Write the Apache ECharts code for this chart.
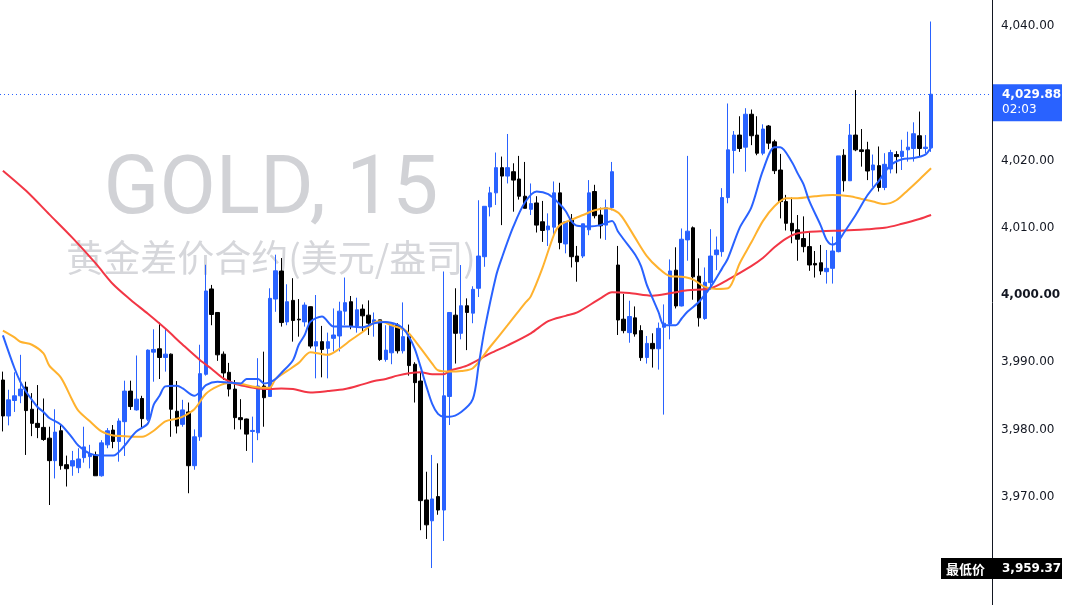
<!DOCTYPE html>
<html><head><meta charset="utf-8">
<script src="https://cdn.jsdelivr.net/npm/echarts@6/dist/echarts.min.js"></script>
<style>html,body{margin:0;padding:0;background:#fff}#c{width:1067px;height:605px}</style>
</head><body><div id="c"></div>
<script>
const opens = [3987.35,3982.0,3984.3,3985.0,3986.3,3983.0,3980.9,3980.3,3978.7,3975.35,
3979.8,3974.75,3974.55,3974.3,3975.8,3975.95,3976.2,3973.1,3977.7,3979.9,
3978.2,3981.15,3985.7,3982.9,3984.6,3981.5,3991.5,3992.0,3990.7,3991.2,
3982.7,3980.75,3982.6,3974.6,3978.9,3988.2,4000.9,3997.4,3991.2,3988.5,
3986.0,3981.75,3981.55,3979.7,3979.5,3986.46,3984.9,3999.4,4003.57,3996.0,
3999.2,3996.4,3996.0,3998.26,3992.4,3993.06,3992.06,3993.55,3993.9,3997.6,
3999.0,3995.4,3997.9,3997.0,3995.9,3996.3,3990.4,3991.4,3995.5,3991.7,
3993.8,3989.7,3987.2,3969.5,3966.4,3970.0,3968.0,3984.9,3997.0,3994.3,
3998.4,3997.3,4001.0,4005.7,4013.1,4015.2,4018.95,4017.7,4018.35,4017.26,
4014.7,4012.75,4013.7,4010.9,4009.7,4010.1,4015.2,4007.6,4011.3,4005.8,
4005.8,4009.7,4015.4,4011.9,4010.4,4013.0,4004.46,3996.4,3994.4,3996.6,
3994.7,3990.7,3992.8,3992.0,3995.2,3995.7,4003.7,3998.37,4008.2,4010.0,
4002.8,3996.5,4001.84,4006.0,4006.45,4014.5,4021.5,4023.8,4022.0,4026.9,
4023.8,4021.1,4025.15,4022.8,4018.6,4013.9,4010.67,4009.7,4008.4,4007.2,
4004.7,4004.8,4003.47,4003.97,4006.45,4020.8,4017.0,4023.8,4021.6,4021.6,
4018.6,4019.25,4016.0,4018.75,4020.9,4020.6,4021.6,4021.8,4023.7,4021.8,
4021.9];
const closes = [3982.0,3984.4,3985.0,3986.0,3982.8,3980.9,3980.3,3978.5,3975.35,3979.6,
3974.6,3974.15,3975.35,3975.6,3977.4,3976.35,3973.1,3978.0,3979.8,3978.2,
3981.25,3985.7,3983.4,3984.5,3981.6,3991.8,3991.9,3990.7,3991.2,3983.0,
3980.5,3982.9,3974.6,3978.9,3988.3,4000.6,3997.1,3991.1,3988.4,3986.0,
3981.75,3981.45,3979.3,3979.85,3986.46,3984.72,3999.5,4003.6,3995.9,3999.0,
3996.2,3996.3,3998.5,3992.4,3993.06,3991.9,3993.06,3994.05,3997.6,3998.86,
3995.4,3997.8,3996.9,3995.8,3996.3,3990.4,3991.8,3995.7,3991.7,3993.8,
3989.5,3986.96,3969.4,3965.8,3969.65,3968.0,3985.0,3997.4,3994.3,3998.4,
3997.4,4000.84,4005.8,4013.2,4015.2,4018.95,4017.7,4018.95,4017.1,4014.7,
4012.9,4013.6,4010.4,4009.6,4010.27,4015.2,4007.8,4010.9,4005.7,4004.96,
4010.6,4015.2,4011.8,4010.3,4013.0,4018.35,3996.28,3994.7,3996.8,3994.2,
3990.68,3992.8,3992.0,3995.04,3995.8,4003.58,3998.37,4008.3,4009.5,4002.7,
3996.6,4001.9,4005.8,4006.7,4014.5,4021.6,4023.8,4021.8,4026.9,4023.7,
4021.1,4024.7,4022.6,4018.5,4013.9,4010.67,4009.53,4008.3,4007.2,4004.47,
4004.47,4003.57,4003.97,4006.55,4020.7,4017.0,4023.8,4021.6,4021.35,4018.45,
4019.35,4016.0,4019.45,4021.2,4020.6,4021.4,4022.0,4024.0,4021.8,4022.0,
4029.88];
const highs = [3988.6,3985.9,3988.5,3991.1,3987.1,3985.4,3986.6,3984.6,3980.4,3983.0,
3980.8,3976.1,3976.8,3977.2,3980.4,3977.7,3976.7,3978.4,3980.2,3980.65,
3981.65,3987.25,3987.25,3991.0,3985.0,3991.9,3994.9,3995.9,3995.0,3991.3,
3987.2,3984.4,3984.0,3980.0,3992.6,4004.5,4001.5,3997.4,3991.6,3989.9,
3987.35,3984.5,3981.6,3981.9,3990.6,3991.57,4001.0,4006.0,4005.5,4001.6,
4002.5,3999.4,3998.9,3998.3,4000.0,3995.4,3994.4,3998.0,3999.0,4002.6,
3999.85,3999.6,3998.6,3999.2,3997.4,3996.3,3995.5,3995.7,3995.8,3998.9,
3995.6,3990.0,3988.5,3973.7,3976.2,3974.95,4003.5,3997.4,4001.0,4004.46,
3999.5,4001.3,4014.1,4013.2,4016.1,4021.2,4020.6,4023.96,4019.6,4020.7,
4019.8,4016.6,4014.7,4014.0,4012.15,4016.9,4016.7,4010.9,4012.05,4007.3,
4010.6,4017.1,4016.4,4013.0,4014.2,4019.8,4007.3,4000.15,3999.15,3998.3,
3995.5,3993.9,3994.3,3995.9,3998.6,4005.3,4007.1,4009.9,4020.7,4010.2,
4005.46,4004.1,4009.8,4008.7,4015.9,4028.5,4024.4,4026.6,4027.8,4027.6,
4026.6,4025.4,4025.3,4023.1,4021.0,4014.9,4014.5,4011.9,4011.7,4009.5,
4006.55,4007.45,4006.7,4008.7,4020.7,4021.7,4025.45,4030.5,4024.7,4022.8,
4020.9,4022.1,4021.1,4021.6,4021.4,4023.1,4024.3,4025.7,4027.3,4023.8,
4040.7];
const lows = [3979.7,3980.6,3982.6,3983.9,3976.2,3979.0,3978.7,3978.3,3968.75,3972.7,
3974.0,3971.5,3973.1,3973.5,3975.05,3974.2,3973.1,3972.97,3977.2,3977.2,
3975.2,3976.05,3982.9,3982.8,3980.25,3981.25,3987.1,3987.5,3988.6,3978.9,
3979.4,3980.4,3970.5,3974.0,3978.3,3988.0,3995.5,3990.2,3987.35,3984.9,
3980.0,3980.0,3976.8,3975.05,3978.4,3980.4,3984.9,3997.5,3995.3,3995.5,
3993.06,3993.8,3995.3,3992.06,3987.6,3987.75,3987.6,3991.6,3991.6,3995.5,
3994.9,3994.4,3994.4,3994.05,3993.8,3990.2,3990.08,3989.7,3991.3,3991.3,
3988.0,3984.0,3965.0,3963.7,3959.37,3967.3,3963.4,3980.65,3989.8,3993.4,
3991.8,3995.8,3999.7,4004.2,4011.7,4013.4,4010.4,4016.6,4012.4,4014.2,
4012.9,4011.9,4009.3,4007.9,4007.3,4008.8,4006.8,4006.2,4004.1,4001.98,
4005.5,4008.9,4011.4,4008.4,4008.2,4012.6,3994.05,3994.3,3992.9,3993.8,
3990.2,3989.8,3989.2,3988.9,3982.2,3993.4,3998.0,3998.3,4005.1,3999.3,
3995.3,3996.3,4000.8,4003.7,4005.7,4013.65,4018.1,4021.3,4018.35,4022.3,
4020.8,4020.8,4021.7,4018.0,4011.4,4009.6,4007.7,4005.1,4006.35,4003.6,
4002.6,4003.0,4001.7,4001.7,4006.35,4015.4,4017.0,4021.4,4019.1,4017.1,
4016.1,4015.4,4015.6,4018.1,4018.1,4018.6,4019.85,4019.85,4020.6,4021.1,
4021.3];

// moving averages: [candle index, value]
const maFast = [[0,3994.0],[2,3989.1],[3,3987.1],[4,3985.6],[5,3984.4],[6,3983.3],[7,3982.6],[8,3981.7],[10,3980.7],[12,3978.7],[13,3977.6],[15,3976.4],[17,3976.1],[19,3976.1],[21,3977.6],[22,3978.7],[23,3979.7],[25,3980.9],[26,3983.7],[27,3985.0],[28,3986.4],[30,3986.5],[31,3986.1],[33,3985.0],[34,3985.6],[35,3986.6],[37,3987.1],[39,3986.95],[41,3986.85],[42,3987.5],[44,3987.5],[45,3986.85],[46,3987.0],[47,3987.5],[48,3988.4],[50,3990.3],[51,3992.6],[52,3994.0],[53,3996.0],[55,3996.8],[57,3995.3],[60,3995.3],[62,3995.2],[64,3995.8],[66,3996.0],[68,3995.6],[69,3995.0],[70,3993.8],[71,3992.0],[72,3989.3],[73,3986.4],[74,3983.8],[75,3982.3],[76,3981.9],[77,3981.9],[79,3982.6],[81,3984.5],[82,3989.5],[83,3994.7],[85,4002.8],[86,4005.5],[88,4010.2],[90,4013.8],[92,4015.4],[94,4015.0],[96,4013.5],[97,4012.5],[98,4011.0],[99,4010.3],[101,4010.2],[103,4010.4],[105,4011.0],[106,4009.5],[107,4008.3],[109,4006.0],[110,4004.3],[111,4001.5],[112,3999.5],[113,3997.5],[114,3995.5],[116,3995.5],[117,3996.5],[118,3997.5],[120,3999.0],[122,4001.2],[124,4004.0],[125,4005.5],[127,4010.0],[129,4013.0],[131,4018.5],[133,4022.0],[134,4022.0],[136,4019.8],[137,4018.1],[138,4016.5],[139,4014.0],[141,4010.3],[142,4008.2],[143,4007.5],[144,4008.0],[145,4009.3],[147,4011.9],[149,4014.8],[151,4017.0],[153,4019.3],[155,4020.2],[157,4020.4],[159,4020.9],[160,4022.0]];
const maMid = [[0,3994.7],[2,3993.7],[3,3993.05],[5,3992.6],[7,3991.3],[8,3989.5],[10,3987.7],[12,3984.3],[13,3982.8],[15,3981.2],[17,3979.7],[19,3979.1],[21,3979.0],[23,3978.9],[24,3978.9],[26,3979.8],[28,3981.2],[30,3981.6],[31,3981.9],[33,3983.0],[35,3985.3],[37,3986.4],[39,3986.9],[41,3986.8],[43,3986.4],[45,3986.2],[46,3986.2],[47,3987.5],[49,3988.7],[51,3989.9],[53,3991.5],[55,3991.2],[56,3991.1],[58,3992.0],[60,3993.3],[62,3994.5],[64,3995.9],[65,3996.1],[67,3995.5],[69,3994.9],[70,3994.3],[72,3992.1],[74,3989.8],[75,3988.8],[77,3988.6],[79,3988.7],[81,3989.1],[84,3992.3],[87,3995.5],[90,3998.8],[91,3999.8],[93,4004.0],[95,4009.0],[96,4010.4],[98,4011.2],[100,4011.9],[102,4012.6],[104,4012.9],[106,4012.3],[107,4011.3],[109,4008.5],[111,4005.8],[113,4004.0],[115,4002.8],[117,4002.7],[119,4002.3],[121,4001.2],[123,4000.9],[125,4001.0],[127,4004.7],[129,4007.8],[131,4011.0],[133,4013.2],[135,4014.4],[137,4014.4],[140,4014.7],[143,4014.9],[146,4014.7],[148,4014.3],[150,4013.9],[152,4013.55],[154,4014.1],[156,4015.6],[158,4017.2],[160,4018.85]];
const maSlow = [[0,4018.5],[4,4015.5],[8,4012.0],[12,4008.5],[16,4004.7],[19,4001.6],[22,3999.3],[25,3997.2],[28,3995.0],[31,3992.6],[34,3990.3],[36,3989.0],[38,3987.6],[40,3986.8],[42,3986.4],[44,3986.1],[46,3986.0],[48,3986.1],[50,3986.0],[52,3985.6],[53,3985.5],[56,3985.7],[59,3986.0],[62,3986.7],[64,3987.2],[66,3987.5],[68,3988.0],[70,3988.35],[72,3988.5],[74,3988.2],[76,3988.2],[77,3988.7],[80,3989.5],[84,3991.3],[87,3992.5],[91,3994.3],[94,3996.1],[97,3996.9],[99,3997.4],[103,3999.5],[105,4000.4],[108,4000.3],[112,3999.9],[115,4000.25],[118,4000.7],[122,4001.0],[125,4002.3],[129,4004.3],[131,4005.5],[133,4007.1],[135,4008.4],[137,4009.2],[141,4009.5],[145,4009.6],[149,4009.8],[152,4010.0],[155,4010.6],[158,4011.3],[160,4011.9]];

const yTicks = [3970, 3980, 3990, 4000, 4010, 4020, 4030, 4040];
const yMin = 3953.87, yMax = 4043.90;
const symbolTitle = 'GOLD, 15';
const symbolName = '黄金差价合约(美元/盎司)';
const countdown = '02:03';
const lowLabel = '最低价';
const padCount = 10;

const categories = Array.from({length: opens.length + padCount}, (_, i) => 'c' + i);
const candleData = opens.map((o, i) => [o, closes[i], lows[i], highs[i]]);
const fmt = v => v.toLocaleString('en-US', {minimumFractionDigits: 2, maximumFractionDigits: 2});
const lastClose = closes[closes.length - 1];
const lowest = Math.min(...lows);

const chart = echarts.init(document.getElementById('c'), null, {renderer: 'canvas'});
const lineSeries = (data, color) => ({
  type: 'line', data, showSymbol: false, smooth: 0.3, z: 3, silent: true,
  lineStyle: {color, width: 2}, itemStyle: {color}
});
chart.setOption({
  animation: false,
  backgroundColor: '#ffffff',
  grid: {left: 0, right: 75, top: 0, bottom: 0, containLabel: false},
  xAxis: {type: 'category', data: categories, boundaryGap: true, show: false},
  yAxis: {
    type: 'value', position: 'right', min: yMin, max: yMax,
    splitLine: {show: false}, axisTick: {show: false},
    axisLine: {show: true, lineStyle: {color: '#131722', width: 1}},
    axisLabel: {
      customValues: yTicks, showMinLabel: true, showMaxLabel: true,
      margin: 9, color: '#131722', fontSize: 12, fontFamily: 'DejaVu Sans',
      formatter: v => Math.abs(v - 4000) < 1e-6 ? '{b|' + fmt(v) + '}' : fmt(v),
      rich: {b: {fontWeight: 'bold', fontSize: 12, fontFamily: 'DejaVu Sans', color: '#131722'}}
    }
  },
  series: [
    {
      type: 'candlestick', data: candleData, barWidth: 4, z: 2,
      itemStyle: {color: '#2962FF', color0: '#000000', borderColor: '#2962FF', borderColor0: '#000000', borderWidth: 1},
      markLine: {
        symbol: 'none', silent: true, animation: false,
        data: [{yAxis: lastClose}],
        lineStyle: {color: '#2962FF', type: [1, 3], width: 1},
        label: {show: false}
      }
    },
    lineSeries(maSlow, '#F23645'),
    lineSeries(maMid, '#FFB22E'),
    lineSeries(maFast, '#2962FF')
  ]
});

const yLast = chart.convertToPixel({yAxisIndex: 0}, lastClose);
const yLow = chart.convertToPixel({yAxisIndex: 0}, lowest);
chart.setOption({
  graphic: [
    {type: 'text', z: 0, x: 271, y: 192,
     style: {text: symbolTitle, x: 0, y: 0, align: 'center', verticalAlign: 'middle', fill: '#d1d2d6', font: '82px Roboto'}},
    {type: 'text', z: 0, x: 271, y: 258,
     style: {text: symbolName, x: 0, y: 0, align: 'center', verticalAlign: 'middle', fill: '#d6d7db', font: '37px "Noto Sans CJK SC"'}},
    {type: 'rect', z: 100, shape: {x: 993, y: yLast - 10, width: 69, height: 37}, style: {fill: '#2962FF'}},
    {type: 'text', z: 101, style: {text: fmt(lastClose), x: 1002, y: yLast + 1, verticalAlign: 'middle', fill: '#ffffff', font: 'bold 12px "DejaVu Sans"'}},
    {type: 'text', z: 101, style: {text: countdown, x: 1002, y: yLast + 16, verticalAlign: 'middle', fill: '#ffffff', font: '12px "DejaVu Sans"'}},
    {type: 'rect', z: 100, shape: {x: 941, y: yLow - 10, width: 121, height: 21}, style: {fill: '#000000'}},
    {type: 'text', z: 101, style: {text: lowLabel, x: 946, y: yLow + 1, verticalAlign: 'middle', fill: '#ffffff', font: 'bold 13px "Noto Sans CJK SC"'}},
    {type: 'text', z: 101, style: {text: fmt(lowest), x: 1002, y: yLow + 1, verticalAlign: 'middle', fill: '#ffffff', font: 'bold 12px "DejaVu Sans"'}}
  ]
});
</script></body></html>
